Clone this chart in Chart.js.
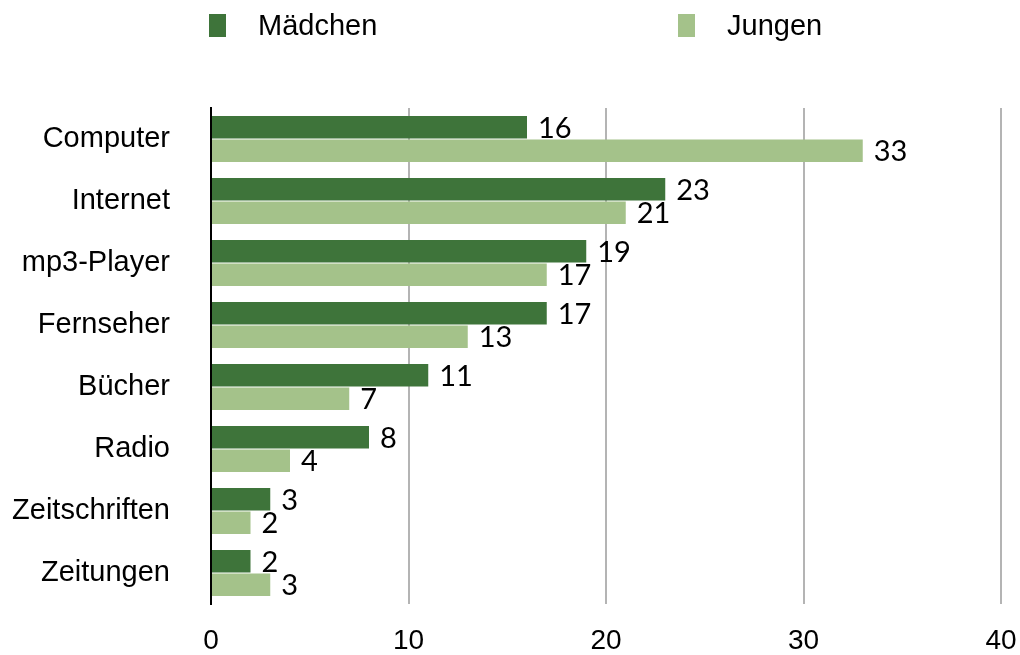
<html><head><meta charset="UTF-8">
<title>Mediennutzung Mädchen / Jungen</title>
<style>
    body, html {
        margin: 0;
        padding: 0;
        background: #fff;
        font-family: 'Liberation Sans', Arial, sans-serif;
    }
    .wrap {
        position: relative;
        width: 1020px;
        height: 655px;
    }
    .legend-item {
        position: absolute;
        top: 8px;
        font-size: 29px;
        line-height: 34px;
        color: #000;
        display: flex;
        align-items: center;
    }
    .legend-item span.box {
        display: inline-block;
        width: 17px;
        height: 23px;
        margin-right: 32px;
    }
</style>
<script src="https://cdn.jsdelivr.net/npm/chart.js"></script>
</head>
<body>
<div class="wrap">
    <div class="legend-item" style="left:209px"><span class="box" style="background:#3e743a"></span>Mädchen</div>
    <div class="legend-item" style="left:678px"><span class="box" style="background:#a4c28a"></span>Jungen</div>
    <canvas id="c" width="1020" height="655"></canvas>
</div>
<script>
    const categories = ['Computer', 'Internet', 'mp3-Player', 'Fernseher', 'Bücher', 'Radio', 'Zeitschriften', 'Zeitungen'];
    const maedchen = [16, 23, 19, 17, 11, 8, 3, 2];
    const jungen = [33, 21, 17, 13, 7, 4, 2, 3];
    const xTicks = [0, 10, 20, 30, 40];

    // Werte rechts neben den Balken
    const valueLabels = {
        id: 'valueLabels',
        afterDatasetsDraw(chart) {
            const ctx = chart.ctx;
            ctx.save();
            ctx.font = '29px Lato, "DejaVu Sans", sans-serif';
            ctx.fillStyle = '#000';
            ctx.textBaseline = 'middle';
            ctx.textAlign = 'left';
            chart.data.datasets.forEach((ds, i) => {
                chart.getDatasetMeta(i).data.forEach((bar, j) => {
                    ctx.fillText(String(ds.data[j]), bar.x + 11, bar.y + 1);
                });
            });
            ctx.restore();
        }
    };

    new Chart(document.getElementById('c'), {
        type: 'bar',
        data: {
            labels: categories,
            datasets: [
                { label: 'Mädchen', data: maedchen, backgroundColor: '#3e743a' },
                { label: 'Jungen', data: jungen, backgroundColor: '#a4c28a' }
            ]
        },
        options: {
            indexAxis: 'y',
            responsive: false,
            animation: false,
            categoryPercentage: 0.76,
            barPercentage: 0.95,
            layout: { padding: { top: 108, right: 19, left: 0, bottom: 0 } },
            plugins: { legend: { display: false }, tooltip: { enabled: false } },
            scales: {
                x: {
                    min: 0,
                    max: 40,
                    afterBuildTicks: s => { s.ticks = xTicks.map(v => ({ value: v })); },
                    afterFit: s => { s.height = 51; s.paddingLeft = 0; s.paddingRight = 0; },
                    grid: {
                        drawTicks: false,
                        lineWidth: 2,
                        color: c => c.tick && c.tick.value === 0 ? 'rgba(0,0,0,0)' : '#b4b4b4'
                    },
                    border: { display: false },
                    ticks: {
                        padding: 20,
                        color: '#000',
                        font: { family: 'Liberation Sans', size: 28 }
                    }
                },
                y: {
                    afterFit: s => { s.width = 211; s.paddingTop = 0; s.paddingBottom = 0; },
                    grid: { display: false, drawTicks: false },
                    border: { color: '#000', width: 2 },
                    ticks: {
                        padding: 41,
                        color: '#000',
                        font: { family: 'Liberation Sans', size: 29 }
                    }
                }
            }
        },
        plugins: [valueLabels]
    });
</script>
</body>
</html>
